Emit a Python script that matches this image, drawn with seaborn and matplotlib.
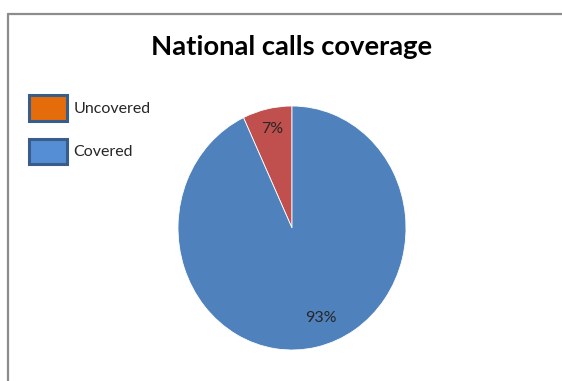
import matplotlib
matplotlib.use("Agg")
import matplotlib.pyplot as plt
from matplotlib.patches import Patch
from matplotlib.lines import Line2D
import seaborn as sns

# Chart data
categories = ["Uncovered", "Covered"]
shares = [7, 93]
title = "National calls coverage"

# Colours: slice fills and the (differently coloured) legend keys
slice_colors = ["#C0504D", "#4F81BD"]
legend_colors = ["#E46C0A", "#558ED5"]
legend_edge = "#385D8A"

sns.set_theme(style="white")
plt.rcParams["font.family"] = ["Lato", "DejaVu Sans"]

W, H = 562, 381
fig = plt.figure(figsize=(W / 100, H / 100), dpi=100)
fig.patch.set_facecolor("white")

# Pie axes placed in pixel units (slightly taller than wide)
cx, cy, rx, ry = 292, 228, 114, 122
ax = fig.add_axes([(cx - rx) / W, (H - cy - ry) / H, 2 * rx / W, 2 * ry / H])
wedges, texts, autotexts = ax.pie(
    shares,
    colors=slice_colors,
    startangle=90,
    counterclock=True,
    autopct=lambda p: f"{p:.0f}%",
    pctdistance=0.8,
    wedgeprops=dict(edgecolor="white", linewidth=0.6),
    textprops=dict(fontsize=11.5, color="#262626"),
    radius=1.0,
)
ax.set_aspect("auto")
ax.set_xlim(-1, 1)
ax.set_ylim(-1, 1)
ax.axis("off")

# Label placement inside the slices
autotexts[0].set_position((-0.175, 0.81))
autotexts[1].set_position((0.25, -0.74))

# Title
fig.text(cx / W, 1 - 47 / H, title, ha="center", va="center",
         fontsize=19.7, fontweight="bold", color="black")

# Legend with outlined keys
handles = [Patch(facecolor=c, edgecolor=legend_edge, linewidth=2.2, label=l)
           for c, l in zip(legend_colors, categories)]
fig.legend(handles=handles, loc="upper left",
           bbox_to_anchor=(29 / W, 1 - 95 / H),
           frameon=False, fontsize=11.5, handlelength=2.35, handleheight=2.1,
           handletextpad=0.45, labelspacing=1.12, borderpad=0, borderaxespad=0,
           labelcolor="#262626")

# Chart-area frame (left and top edges visible)
frame_color = "#8C8C8C"
fig.add_artist(Line2D([8 / W, 8 / W], [1 - 14 / H, 0], color=frame_color, lw=1.6,
                      transform=fig.transFigure))
fig.add_artist(Line2D([8 / W, 1], [1 - 14 / H, 1 - 14 / H], color=frame_color, lw=1.6,
                      transform=fig.transFigure))

fig.savefig("out.png", dpi=100, facecolor="white")
